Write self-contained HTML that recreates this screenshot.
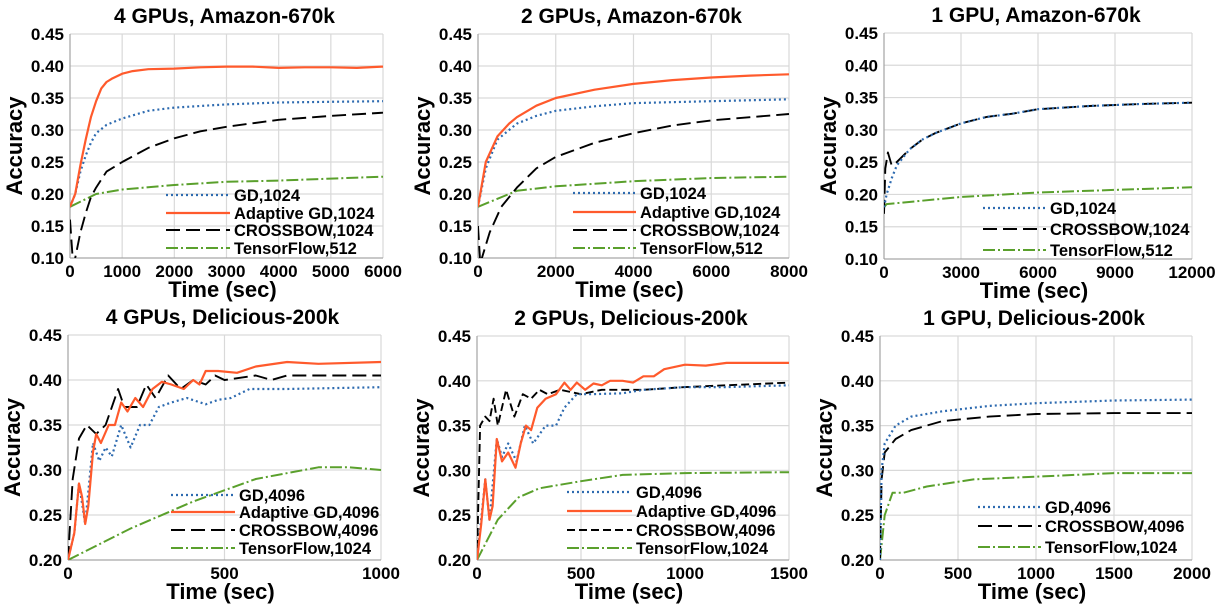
<!DOCTYPE html>
<html><head><meta charset="utf-8">
<style>
body{margin:0;background:#fff;}
svg{display:block;font-family:"Liberation Sans",sans-serif;font-weight:bold;}
</style></head>
<body>
<svg id="chart" width="1226" height="609" viewBox="0 0 1226 609"></svg>
<script>
// ---- data (time in sec, accuracy) ----
const p1AdT=[0,100,200,300,400,500,600,700,800,1000,1200,1500,2000,2500,3000,3500,4000,4500,5000,5500,6000];
const p1AdY=[0.18,0.20,0.245,0.285,0.32,0.345,0.365,0.375,0.38,0.388,0.392,0.395,0.396,0.398,0.399,0.399,0.397,0.398,0.398,0.397,0.399];
const p1GdT=[0,100,200,300,400,500,700,1000,1500,2000,3000,4000,5000,6000];
const p1GdY=[0.18,0.2,0.235,0.26,0.28,0.295,0.308,0.318,0.33,0.335,0.34,0.343,0.344,0.345];
const p1CbT=[0,60,100,200,300,400,500,700,1000,1500,2000,2500,3000,4000,5000,6000];
const p1CbY=[0.16,0.09,0.10,0.14,0.17,0.195,0.21,0.235,0.25,0.272,0.287,0.298,0.305,0.316,0.322,0.327];
const p1TfT=[0,500,1000,2000,3000,4000,5000,6000];
const p1TfY=[0.18,0.20,0.207,0.214,0.219,0.221,0.224,0.227];

const p2AdT=[0,200,500,800,1000,1500,2000,3000,4000,5000,6000,7000,8000];
const p2AdY=[0.18,0.25,0.29,0.31,0.32,0.338,0.35,0.363,0.372,0.378,0.382,0.385,0.387];
const p2GdT=[0,200,500,1000,1500,2000,3000,4000,6000,8000];
const p2GdY=[0.18,0.24,0.285,0.31,0.322,0.33,0.337,0.342,0.345,0.348];
const p2CbT=[0,60,100,300,600,1000,1500,2000,3000,4000,5000,6000,7000,8000];
const p2CbY=[0.15,0.09,0.10,0.14,0.18,0.21,0.24,0.258,0.28,0.295,0.307,0.315,0.32,0.325];
const p2TfT=[0,1000,2000,4000,6000,8000];
const p2TfY=[0.18,0.205,0.212,0.22,0.225,0.227];

const p3GdT=[0,100,300,500,1000,1500,2000,3000,4000,5000,6000,8000,10000,12000];
const p3GdY=[0.18,0.20,0.225,0.245,0.27,0.285,0.295,0.31,0.32,0.325,0.332,0.337,0.34,0.342];
const p3CbT=[0,50,150,300,500,1000,1500,2000,3000,4000,5000,6000,8000,10000,12000];
const p3CbY=[0.17,0.24,0.265,0.245,0.25,0.27,0.285,0.295,0.31,0.32,0.325,0.332,0.337,0.34,0.342];
const p3TfT=[0,100,3000,6000,9000,12000];
const p3TfY=[0.18,0.185,0.196,0.203,0.207,0.211];

const p4AdT=[0,20,35,45,55,65,80,90,105,130,150,170,190,215,240,270,300,330,370,400,420,440,480,540,600,700,800,1000];
const p4AdY=[0.20,0.23,0.285,0.27,0.24,0.26,0.32,0.34,0.33,0.35,0.35,0.375,0.365,0.38,0.37,0.39,0.398,0.395,0.39,0.4,0.395,0.41,0.41,0.408,0.415,0.42,0.418,0.42];
const p4GdT=[0,20,35,55,80,100,120,140,170,200,230,260,290,330,380,440,480,520,580,700,1000];
const p4GdY=[0.20,0.23,0.285,0.24,0.33,0.31,0.325,0.315,0.35,0.325,0.35,0.35,0.37,0.375,0.38,0.373,0.378,0.38,0.39,0.39,0.392];
const p4CbT=[0,15,35,60,90,120,160,180,220,250,280,320,360,400,440,470,500,600,650,700,1000];
const p4CbY=[0.20,0.29,0.335,0.35,0.34,0.35,0.39,0.37,0.37,0.395,0.38,0.405,0.39,0.4,0.395,0.405,0.4,0.405,0.4,0.405,0.405];
const p4TfT=[0,200,400,600,800,900,1000];
const p4TfY=[0.20,0.235,0.265,0.29,0.303,0.303,0.30];

const p5AdT=[0,20,40,60,75,95,120,150,185,210,235,260,290,330,380,420,450,480,520,560,600,640,700,750,800,850,900,1000,1100,1200,1500];
const p5AdY=[0.20,0.24,0.29,0.245,0.26,0.335,0.31,0.32,0.303,0.33,0.35,0.345,0.37,0.38,0.385,0.398,0.39,0.398,0.39,0.397,0.395,0.4,0.4,0.398,0.405,0.405,0.413,0.418,0.417,0.42,0.42];
const p5GdT=[0,40,60,95,120,150,190,230,270,330,380,420,480,550,700,800,1000,1200,1500];
const p5GdY=[0.20,0.29,0.245,0.335,0.315,0.33,0.31,0.35,0.33,0.35,0.35,0.37,0.385,0.385,0.386,0.39,0.393,0.393,0.395];
const p5CbT=[0,15,40,60,80,100,140,180,220,260,300,340,400,500,600,800,1000,1200,1500];
const p5CbY=[0.20,0.35,0.36,0.355,0.38,0.35,0.39,0.36,0.385,0.38,0.39,0.385,0.39,0.385,0.39,0.39,0.393,0.395,0.398];
const p5TfT=[0,100,200,300,500,700,1000,1500];
const p5TfY=[0.20,0.245,0.27,0.28,0.288,0.295,0.297,0.298];

const p6GdT=[0,10,30,100,200,400,700,1000,1500,2000];
const p6GdY=[0.20,0.30,0.33,0.35,0.36,0.366,0.372,0.375,0.378,0.379];
const p6CbT=[0,10,30,100,200,400,700,1000,1500,2000];
const p6CbY=[0.20,0.29,0.32,0.335,0.345,0.355,0.36,0.363,0.364,0.364];
const p6TfT=[0,30,80,150,300,600,1000,1500,2000];
const p6TfY=[0.20,0.25,0.275,0.275,0.282,0.29,0.293,0.297,0.297];

const topYTicks=[0.10,0.15,0.20,0.25,0.30,0.35,0.40,0.45];
const botYTicks=[0.20,0.25,0.30,0.35,0.40,0.45];
const p1XTicks=[0,1000,2000,3000,4000,5000,6000];
const p2XTicks=[0,2000,4000,6000,8000];
const p3XTicks=[0,3000,6000,9000,12000];
const p4XTicks=[0,500,1000];
const p5XTicks=[0,500,1000,1500];
const p6XTicks=[0,500,1000,1500,2000];

const STY={
 gd:{c:'#2e6bb0',w:2.2,d:'2,3'},
 ad:{c:'#ff5a2c',w:2.2,d:''},
 cb:{c:'#000',w:1.9,d:'14,6'},
 cbs:{c:'#000',w:1.9,d:'8,4'},
 tf:{c:'#5aa02c',w:2,d:'12,3,2,3'}
};
const panels=[
 {id:'p1',title:'4 GPUs, Amazon-670k',x0:70,x1:383,yT:34,yB:258,ymin:0.10,xmax:6000,xt:p1XTicks,yt:topYTicks,
  leg:{lx:166,tx:234,ys:[195,213,230,248]},
  s:[['gd','GD,1024',p1GdT,p1GdY],['ad','Adaptive GD,1024',p1AdT,p1AdY],['cb','CROSSBOW,1024',p1CbT,p1CbY],['tf','TensorFlow,512',p1TfT,p1TfY]]},
 {id:'p2',title:'2 GPUs, Amazon-670k',x0:478,x1:789,yT:34,yB:258,ymin:0.10,xmax:8000,xt:p2XTicks,yt:topYTicks,
  leg:{lx:573,tx:640,ys:[193,212,230,248]},
  s:[['gd','GD,1024',p2GdT,p2GdY],['ad','Adaptive GD,1024',p2AdT,p2AdY],['cb','CROSSBOW,1024',p2CbT,p2CbY],['tf','TensorFlow,512',p2TfT,p2TfY]]},
 {id:'p3',title:'1 GPU, Amazon-670k',x0:884,x1:1192,yT:33,yB:259,ymin:0.10,xmax:12000,xt:p3XTicks,yt:topYTicks,
  leg:{lx:983,tx:1050,ys:[208,229,250]},
  s:[['gd','GD,1024',p3GdT,p3GdY],['cb','CROSSBOW,1024',p3CbT,p3CbY],['tf','TensorFlow,512',p3TfT,p3TfY]]},
 {id:'p4',title:'4 GPUs, Delicious-200k',x0:68,x1:381,yT:335,yB:560,ymin:0.20,xmax:1000,xt:p4XTicks,yt:botYTicks,
  leg:{lx:171,tx:239,ys:[495,512,530,548]},
  s:[['gd','GD,4096',p4GdT,p4GdY],['ad','Adaptive GD,4096',p4AdT,p4AdY],['cb','CROSSBOW,4096',p4CbT,p4CbY],['tf','TensorFlow,1024',p4TfT,p4TfY]]},
 {id:'p5',title:'2 GPUs, Delicious-200k',x0:477,x1:789,yT:336,yB:560,ymin:0.20,xmax:1500,xt:p5XTicks,yt:botYTicks,
  leg:{lx:567,tx:636,ys:[492,511,530,548]},
  s:[['gd','GD,4096',p5GdT,p5GdY],['ad','Adaptive GD,4096',p5AdT,p5AdY],['cbs','CROSSBOW,4096',p5CbT,p5CbY],['tf','TensorFlow,1024',p5TfT,p5TfY]]},
 {id:'p6',title:'1 GPU, Delicious-200k',x0:880,x1:1192,yT:336,yB:560,ymin:0.20,xmax:2000,xt:p6XTicks,yt:botYTicks,
  leg:{lx:978,tx:1045,ys:[507,526,547]},
  s:[['gd','GD,4096',p6GdT,p6GdY],['cb','CROSSBOW,4096',p6CbT,p6CbY],['tf','TensorFlow,1024',p6TfT,p6TfY]]}
];
const NS='http://www.w3.org/2000/svg';
const svg=document.getElementById('chart');
function mk(tag,attrs,parent,text){const e=document.createElementNS(NS,tag);for(const k in attrs)e.setAttribute(k,attrs[k]);if(text!==undefined)e.textContent=text;(parent||svg).appendChild(e);return e;}
panels.forEach(p=>{
 const g=mk('g',{});
 
 
 const sx=v=>p.x0+(v/p.xmax)*(p.x1-p.x0);
 const sy=v=>p.yB-(v-p.ymin)/(0.45-p.ymin)*(p.yB-p.yT);
 const cid='clip-'+p.id;
 const cp=mk('clipPath',{id:cid},g);mk('rect',{x:p.x0,y:p.yT-2,width:p.x1-p.x0+2,height:p.yB-p.yT+2},cp);
 p.yt.forEach(v=>{
  const ln=mk('line',{x1:p.x0,x2:p.x1,y1:sy(v),y2:sy(v),stroke:'#d9d9d9','stroke-width':1.2},g);
  
  
  const t=mk('text',{x:p.x0-6,y:sy(v)+6,'text-anchor':'end','font-size':17},g,v.toFixed(2));
  
  
 });
 p.xt.forEach(v=>{
  const ln=mk('line',{x1:sx(v),x2:sx(v),y1:p.yT,y2:p.yB,stroke:'#d9d9d9','stroke-width':1.2},g);
  
  
  const t=mk('text',{x:sx(v),y:p.yB+19,'text-anchor':'middle','font-size':17},g,String(v));
  
  
 });
 mk('line',{x1:p.x0,x2:p.x0,y1:p.yT,y2:p.yB,stroke:'#999','stroke-width':1},g);
 mk('line',{x1:p.x0,x2:p.x1,y1:p.yB,y2:p.yB,stroke:'#999','stroke-width':1},g);
 const tt=mk('text',{x:(p.x0+p.x1)/2-2,y:p.yT-11,'text-anchor':'middle','font-size':21},g,p.title);
 
 
 const xt=mk('text',{x:(p.x0+p.x1)/2-4,y:p.yB+39,'text-anchor':'middle','font-size':22},g,'Time (sec)');
 
 
 const cy=(p.yT+p.yB)/2;
 const yt=mk('text',{x:0,y:0,'text-anchor':'middle','font-size':22,transform:`translate(${p.x0-48},${cy}) rotate(-90)`},g,'Accuracy');
 
 
 const order=['tf','cb','cbs','gd','ad'];
 const ss=p.s.slice().sort((a,b)=>order.indexOf(a[0])-order.indexOf(b[0]));
 ss.forEach(s=>{
  const st=STY[s[0]];
  const pts=s[2].map((t,i)=>sx(t).toFixed(1)+','+sy(s[3][i]).toFixed(1)).join(' ');
  const pl=mk('polyline',{points:pts,fill:'none',stroke:st.c,'stroke-width':st.w,'stroke-dasharray':st.d,'stroke-linejoin':'round','clip-path':`url(#${cid})`},g);
  
  
 });
 p.s.forEach((s,i)=>{
  const st=STY[s[0]];const y=p.leg.ys[i];
  const le=mk('g',{},g);
  
  
  mk('line',{x1:p.leg.lx,x2:p.leg.tx-4,y1:y,y2:y,stroke:st.c,'stroke-width':st.w,'stroke-dasharray':st.d},le);
  mk('text',{x:p.leg.tx,y:y+6,'font-size':16.5},le,s[1]);
 });
});
</script>
</body></html>
